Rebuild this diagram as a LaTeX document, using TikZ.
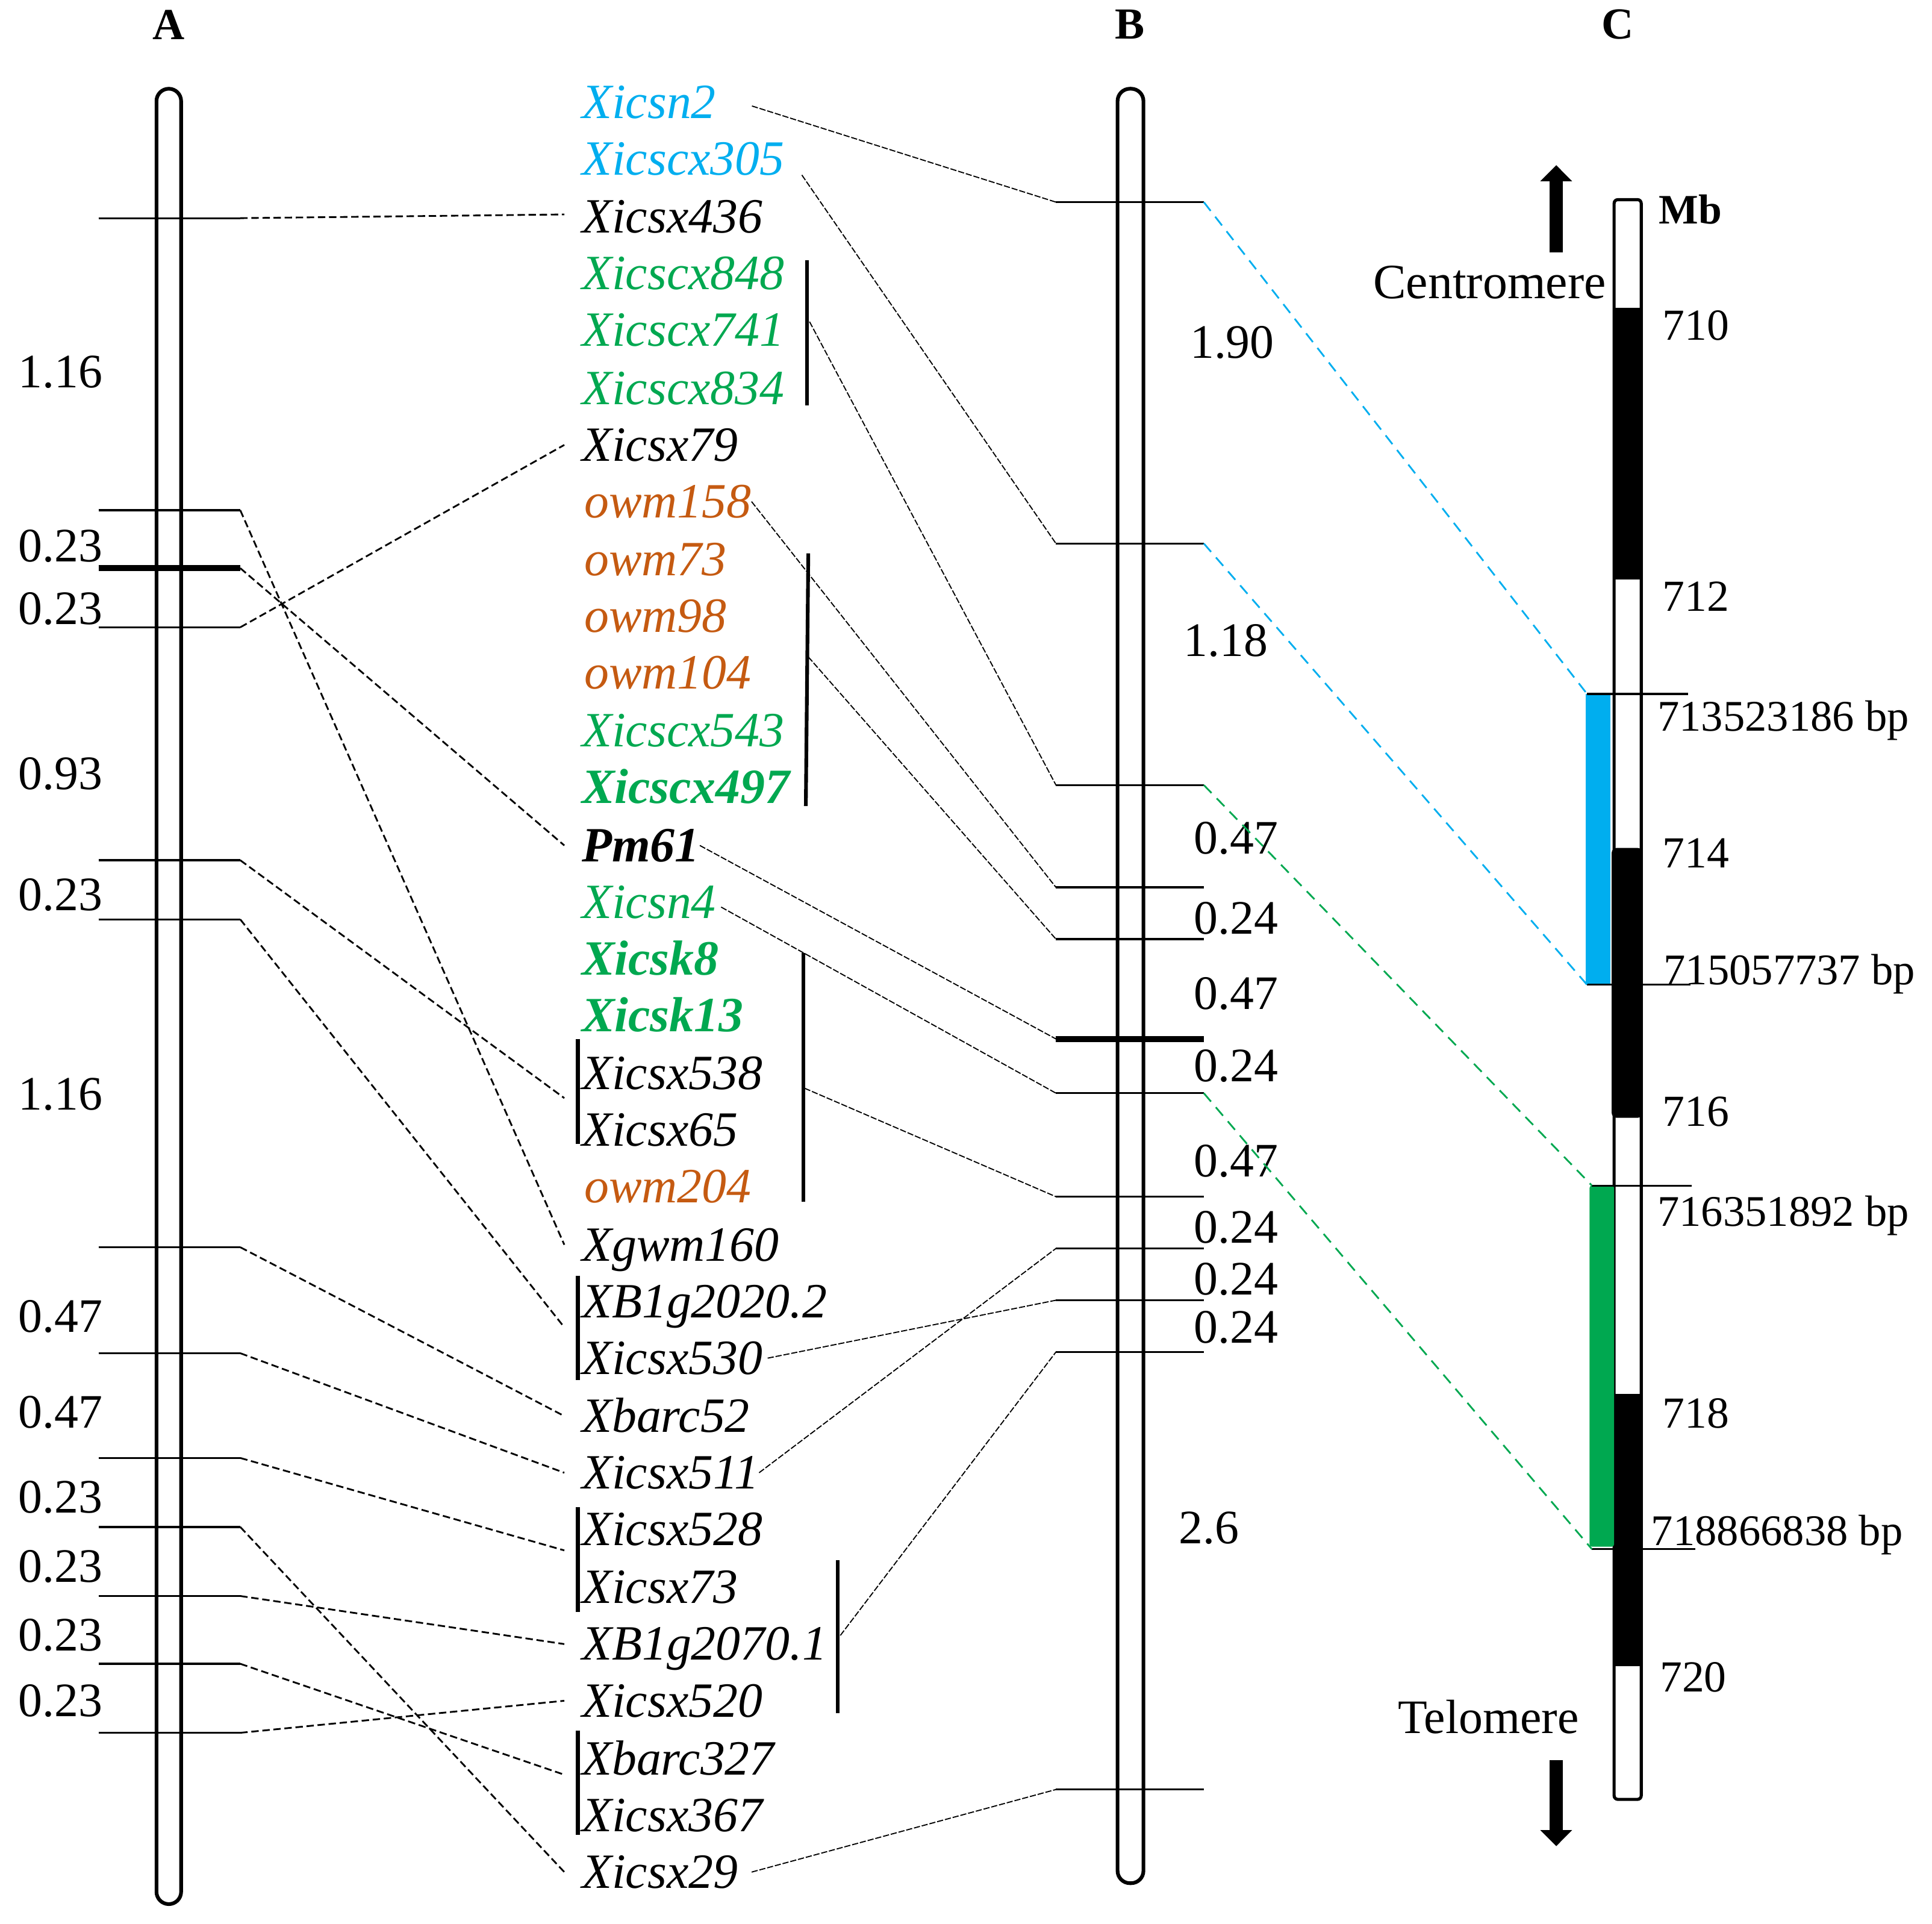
\documentclass[tikz,border=0pt]{standalone}
\usepackage{fontspec}
\setmainfont{Liberation Serif}
\usetikzlibrary{arrows.meta}
\definecolor{mkcyan}{RGB}{0,174,239}
\definecolor{mkgreen}{RGB}{0,168,80}
\definecolor{mkorange}{RGB}{197,90,17}
\begin{document}
\begin{tikzpicture}[x=1pt,y=-1pt]
     \tikzstyle{chrom}=[line width=3pt, rounded corners=10pt]
     \tikzstyle{tk}=[line width=1.6pt]
     \tikzstyle{bigtk}=[line width=5pt]
     \tikzstyle{linkA}=[line width=1.4pt, dash pattern=on 6pt off 3pt]
     \tikzstyle{linkB}=[line width=0.9pt, dash pattern=on 5pt off 1.5pt]
     \tikzstyle{linkC}=[line width=1.4pt, dash pattern=on 9pt off 6pt]
     \tikzstyle{brk}=[line width=3pt]
     \tikzstyle{mk}=[anchor=west, inner sep=0pt, text height=34pt, text depth=8pt, font=\fontsize{40}{40}\selectfont\itshape]
     \tikzstyle{mkb}=[mk, font=\fontsize{40}{40}\selectfont\bfseries\itshape]
     \tikzstyle{dlab}=[inner sep=0pt, font=\fontsize{39}{39}\selectfont]
     \tikzstyle{mblab}=[anchor=west, inner sep=0pt, font=\fontsize{36}{36}\selectfont]
     \tikzstyle{bplab}=[anchor=base west, inner sep=0pt, font=\fontsize{35.5}{36}\selectfont]
     \tikzstyle{hdr}=[inner sep=0pt, font=\fontsize{36}{36}\selectfont\bfseries]
     \useasboundingbox (0,0) rectangle (1568,1561);
     % titles
     \node[hdr] (ta) at (137,20) {A};
     \node[hdr] (tb) at (917,20) {B};
     \node[hdr] (tc) at (1313,20) {C};
     % chromosomes A and B
     \draw[chrom] (127,72) rectangle (147,1545);
     \draw[chrom] (907,72) rectangle (928,1528);
     % marker names
     \node[mk, text=mkcyan] (n2) at (472,83) {Xicsn2};
     \node[mk, text=mkcyan] (cx305) at (472,129) {Xicscx305};
     \node[mk] (sx436) at (472,176) {Xicsx436};
     \node[mk, text=mkgreen] (cx848) at (472,222) {Xicscx848};
     \node[mk, text=mkgreen] (cx741) at (472,268) {Xicscx741};
     \node[mk, text=mkgreen] (cx834) at (472,315) {Xicscx834};
     \node[mk] (sx79) at (472,361) {Xicsx79};
     \node[mk, text=mkorange] (owm158) at (474,407) {owm158};
     \node[mk, text=mkorange] (owm73) at (474,454) {owm73};
     \node[mk, text=mkorange] (owm98) at (474,500) {owm98};
     \node[mk, text=mkorange] (owm104) at (474,546) {owm104};
     \node[mk, text=mkgreen] (cx543) at (472,593) {Xicscx543};
     \node[mkb, text=mkgreen] (cx497) at (472,639) {Xicscx497};
     \node[mkb] (pm61) at (472,686) {Pm61};
     \node[mk, text=mkgreen] (n4) at (472,732) {Xicsn4};
     \node[mkb, text=mkgreen] (sk8) at (472,778) {Xicsk8};
     \node[mkb, text=mkgreen] (sk13) at (472,824) {Xicsk13};
     \node[mk] (sx538) at (472,871) {Xicsx538};
     \node[mk] (sx65) at (472,917) {Xicsx65};
     \node[mk, text=mkorange] (owm204) at (474,963) {owm204};
     \node[mk] (gwm160) at (472,1010) {Xgwm160};
     \node[mk] (bg2020) at (472,1056) {XB1g2020.2};
     \node[mk] (sx530) at (472,1102) {Xicsx530};
     \node[mk] (barc52) at (472,1149) {Xbarc52};
     \node[mk] (sx511) at (472,1195) {Xicsx511};
     \node[mk] (sx528) at (472,1241) {Xicsx528};
     \node[mk] (sx73) at (472,1288) {Xicsx73};
     \node[mk] (bg2070) at (472,1334) {XB1g2070.1};
     \node[mk] (sx520) at (472,1380) {Xicsx520};
     \node[mk] (barc327) at (472,1427) {Xbarc327};
     \node[mk] (sx367) at (472,1473) {Xicsx367};
     \node[mk] (sx29) at (472,1519) {Xicsx29};
     % brackets
     \draw[brk] (469,843) -- (469,928);
     \draw[brk] (469,1035) -- (469,1120);
     \draw[brk] (469,1223) -- (469,1308);
     \draw[brk] (469,1404) -- (469,1489);
     \draw[brk] (655,211) -- (655,329);
     \draw[brk] (656,449) -- (654,654);
     \draw[brk] (652,773) -- (652,975);
     \draw[brk] (680,1266) -- (680,1390);
     \coordinate (k1) at (458,891);
     \coordinate (k2) at (458,1077);
     \coordinate (k3) at (458,1258);
     \coordinate (k4) at (458,1440);
     \coordinate (g1) at (657,261);
     \coordinate (g2) at (656,533);
     \coordinate (g3) at (653,883);
     \coordinate (g4) at (682,1327);
     % map A
     \coordinate (a1) at (195,177);
     \coordinate (a2) at (195,414);
     \coordinate (a3) at (195,461);
     \coordinate (a4) at (195,509);
     \coordinate (a5) at (195,698);
     \coordinate (a6) at (195,746);
     \coordinate (a7) at (195,1012);
     \coordinate (a8) at (195,1098);
     \coordinate (a9) at (195,1183);
     \coordinate (a10) at (195,1239);
     \coordinate (a11) at (195,1295);
     \coordinate (a12) at (195,1350);
     \coordinate (a13) at (195,1406);
     \draw[tk] (80,177) -- (a1);
     \draw[tk] (80,414) -- (a2);
     \draw[bigtk] (80,461) -- (a3);
     \draw[tk] (80,509) -- (a4);
     \draw[tk] (80,698) -- (a5);
     \draw[tk] (80,746) -- (a6);
     \draw[tk] (80,1012) -- (a7);
     \draw[tk] (80,1098) -- (a8);
     \draw[tk] (80,1183) -- (a9);
     \draw[tk] (80,1239) -- (a10);
     \draw[tk] (80,1295) -- (a11);
     \draw[line width=2.2pt] (80,1350) -- (a12);
     \draw[tk] (80,1406) -- (a13);
     \draw[linkA] (a1) -- ([xshift=-14pt,yshift=2pt]sx436.west);
     \draw[linkA] (a2) -- ([xshift=-14pt]gwm160.west);
     \draw[linkA] (a3) -- ([xshift=-14pt]pm61.west);
     \draw[linkA] (a4) -- ([xshift=-14pt]sx79.west);
     \draw[linkA] (a5) -- (k1);
     \draw[linkA] (a6) -- (k2);
     \draw[linkA] (a7) -- ([xshift=-14pt]barc52.west);
     \draw[linkA] (a8) -- ([xshift=-14pt]sx511.west);
     \draw[linkA] (a9) -- (k3);
     \draw[linkA] (a10) -- ([xshift=-14pt]sx29.west);
     \draw[linkA] (a11) -- ([xshift=-14pt]bg2070.west);
     \draw[linkA] (a12) -- (k4);
     \draw[linkA] (a13) -- ([xshift=-14pt]sx520.west);
     \node[dlab] (la1) at (49,302) {1.16};
     \node[dlab] (la2) at (49,443) {0.23};
     \node[dlab] (la3) at (49,494) {0.23};
     \node[dlab] (la4) at (49,628) {0.93};
     \node[dlab] (la5) at (49,726) {0.23};
     \node[dlab] (la6) at (49,888) {1.16};
     \node[dlab] (la7) at (49,1068) {0.47};
     \node[dlab] (la8) at (49,1146) {0.47};
     \node[dlab] (la9) at (49,1215) {0.23};
     \node[dlab] (la10) at (49,1271) {0.23};
     \node[dlab] (la11) at (49,1327) {0.23};
     \node[dlab] (la12) at (49,1380) {0.23};
     % map B
     \coordinate (b1) at (857,164);   \coordinate (r1) at (977,164);
     \coordinate (b2) at (857,441);   \coordinate (r2) at (977,441);
     \coordinate (b3) at (857,637);   \coordinate (r3) at (977,637);
     \coordinate (b4) at (857,720);   \coordinate (r4) at (977,720);
     \coordinate (b5) at (857,762);   \coordinate (r5) at (977,762);
     \coordinate (b6) at (857,843);   \coordinate (r6) at (977,843);
     \coordinate (b7) at (857,887);   \coordinate (r7) at (977,887);
     \coordinate (b8) at (857,971);   \coordinate (r8) at (977,971);
     \coordinate (b9) at (857,1013);  \coordinate (r9) at (977,1013);
     \coordinate (b10) at (857,1055); \coordinate (r10) at (977,1055);
     \coordinate (b11) at (857,1097); \coordinate (r11) at (977,1097);
     \coordinate (b12) at (857,1452); \coordinate (r12) at (977,1452);
     \draw[tk] (b1) -- (r1);
     \draw[tk] (b2) -- (r2);
     \draw[tk] (b3) -- (r3);
     \draw[tk] (b4) -- (r4);
     \draw[tk] (b5) -- (r5);
     \draw[bigtk] (b6) -- (r6);
     \draw[tk] (b7) -- (r7);
     \draw[tk] (b8) -- (r8);
     \draw[tk] (b9) -- (r9);
     \draw[tk] (b10) -- (r10);
     \draw[tk] (b11) -- (r11);
     \draw[tk] (b12) -- (r12);
     \draw[linkB] ([xshift=29pt,yshift=-3pt]n2.east) -- (b1);
     \draw[linkB] ([xshift=14pt,yshift=-13pt]cx305.east) -- (b2);
     \draw[linkB] (g1) -- (b3);
     \draw[linkB] (owm158.east) -- (b4);
     \draw[linkB] (g2) -- (b5);
     \draw[linkB] (pm61.east) -- (b6);
     \draw[linkB] ([xshift=4pt,yshift=-4pt]n4.east) -- (b7);
     \draw[linkB] (g3) -- (b8);
     \draw[linkB] (sx511.east) -- (b9);
     \draw[linkB] ([xshift=4pt]sx530.east) -- (b10);
     \draw[linkB] (g4) -- (b11);
     \draw[linkB] ([xshift=11pt]sx29.east) -- (b12);
     \node[dlab] (lb1) at (1000,278) {1.90};
     \node[dlab] (lb2) at (995,520) {1.18};
     \node[dlab] (lb3) at (1003,680) {0.47};
     \node[dlab] (lb4) at (1003,745) {0.24};
     \node[dlab] (lb5) at (1003,806) {0.47};
     \node[dlab] (lb6) at (1003,865) {0.24};
     \node[dlab] (lb7) at (1003,942) {0.47};
     \node[dlab] (lb8) at (1003,996) {0.24};
     \node[dlab] (lb9) at (1003,1038) {0.24};
     \node[dlab] (lb10) at (1003,1077) {0.24};
     \node[dlab] (lb11) at (981,1240) {2.6};
     % physical map C
     \draw[line width=2.5pt, fill=white, rounded corners=3pt] (1310,162) rectangle (1332,1460);
     \fill (1309,250) rectangle (1333,470);
     \fill[rounded corners=4pt] (1308,688) rectangle (1333,907);
     \fill (1309,1131) rectangle (1333,1352);
     \fill[mkcyan] (1287,563) rectangle (1307,799);
     \fill[mkgreen, rounded corners=2pt] (1290,962) rectangle (1310,1255);
     \coordinate (c1) at (1288,563);
     \coordinate (c2) at (1288,799);
     \coordinate (c3) at (1292,962);
     \coordinate (c4) at (1292,1257);
     \draw[tk] (c1) -- (1370,563);
     \draw[tk] (c2) -- (1372,799);
     \draw[tk] (c3) -- (1373,962);
     \draw[tk] (c4) -- (1376,1257);
     \draw[linkC, mkcyan] (r1) -- (c1);
     \draw[linkC, mkcyan] (r2) -- (c2);
     \draw[linkC, mkgreen] (r3) -- (c3);
     \draw[linkC, mkgreen] (r7) -- (c4);
     \node[hdr, font=\fontsize{34}{34}\selectfont\bfseries] (mb) at (1372,170) {Mb};
     \node[mblab] (s710) at (1349,264) {710};
     \node[mblab] (s712) at (1349,484) {712};
     \node[mblab] (s714) at (1349,692) {714};
     \node[mblab] (s716) at (1349,902) {716};
     \node[mblab] (s718) at (1349,1147) {718};
     \node[mblab] (s720) at (1347,1361) {720};
     \node[bplab] (bp1) at (1345,593) {713523186 bp};
     \node[bplab] (bp2) at (1350,799) {715057737 bp};
     \node[bplab] (bp3) at (1345,995) {716351892 bp};
     \node[bplab] (bp4) at (1340,1254) {718866838 bp};
     \node[inner sep=0pt, font=\fontsize{40}{40}\selectfont] (cen) at (1209,229) {Centromere};
     \node[inner sep=0pt, font=\fontsize{39}{39}\selectfont] (tel) at (1208,1393) {Telomere};
     \coordinate (up0) at (1263,205);
     \coordinate (up1) at (1263,134);
     \coordinate (dn0) at (1263,1428);
     \coordinate (dn1) at (1263,1498);
     \draw[line width=11pt, -{Triangle[width=25pt,length=13pt]}] (up0) -- (up1);
     \draw[line width=11pt, -{Triangle[width=25pt,length=13pt]}] (dn0) -- (dn1);
\end{tikzpicture}
\end{document}
